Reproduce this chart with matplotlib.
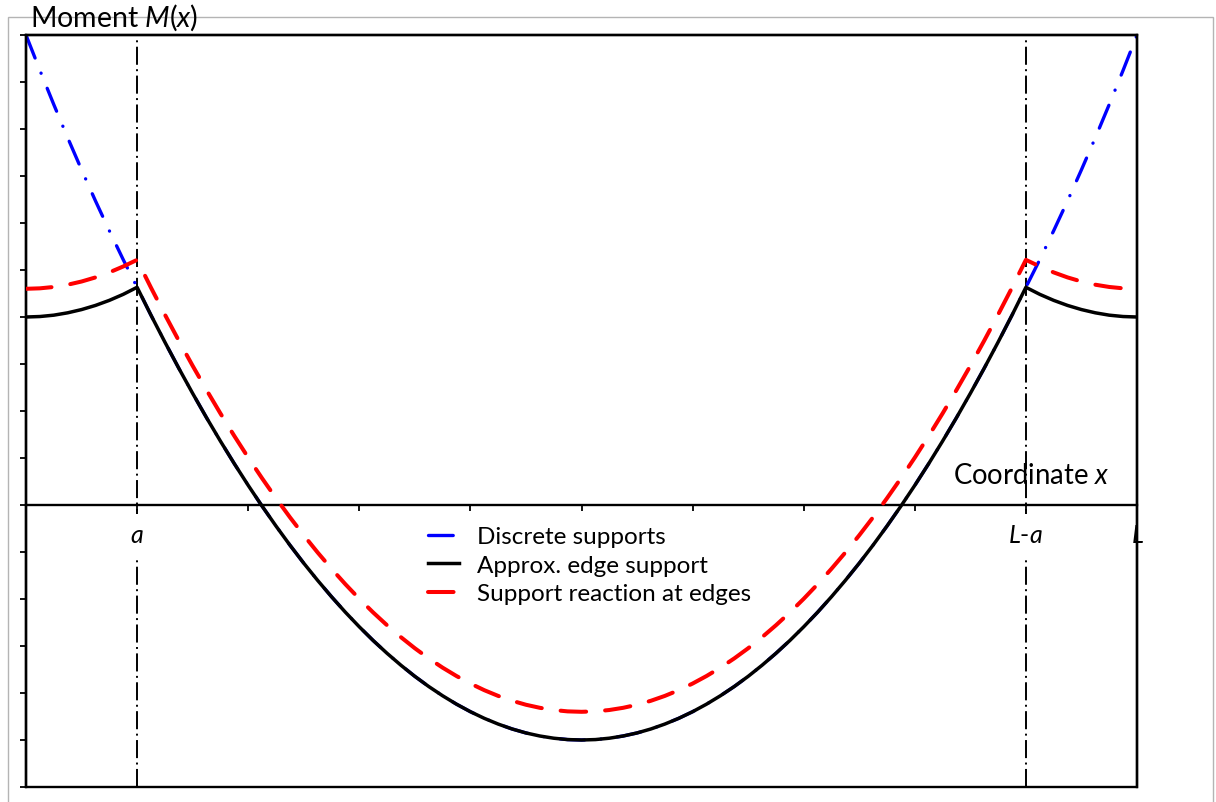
import matplotlib
matplotlib.use("Agg")
import matplotlib.pyplot as plt
from matplotlib.patches import Rectangle

plt.rcParams['font.family'] = ['Lato', 'DejaVu Sans']
plt.rcParams['mathtext.fontset'] = 'custom'
plt.rcParams['mathtext.rm'] = 'Lato'
plt.rcParams['mathtext.it'] = 'Lato:italic'
plt.rcParams['lines.scale_dashes'] = False

# Beam coordinate (span L = 10, support offset a = 1), sampled every 0.125
x_pos = [0.0, 0.125, 0.25, 0.375, 0.5, 0.625, 0.75, 0.875,
         1.0, 1.125, 1.25, 1.375, 1.5, 1.625, 1.75, 1.875,
         2.0, 2.125, 2.25, 2.375, 2.5, 2.625, 2.75, 2.875,
         3.0, 3.125, 3.25, 3.375, 3.5, 3.625, 3.75, 3.875,
         4.0, 4.125, 4.25, 4.375, 4.5, 4.625, 4.75, 4.875,
         5.0, 5.125, 5.25, 5.375, 5.5, 5.625, 5.75, 5.875,
         6.0, 6.125, 6.25, 6.375, 6.5, 6.625, 6.75, 6.875,
         7.0, 7.125, 7.25, 7.375, 7.5, 7.625, 7.75, 7.875,
         8.0, 8.125, 8.25, 8.375, 8.5, 8.625, 8.75, 8.875,
         9.0, 9.125, 9.25, 9.375, 9.5, 9.625, 9.75, 9.875, 10.0]

# Bending moment for discrete supports
m_discrete = [10.000, 9.249, 8.521, 7.815, 7.133, 6.472, 5.836, 5.221,
              4.632, 4.039, 3.466, 2.911, 2.375, 1.857, 1.359, 0.879,
              0.418, -0.024, -0.447, -0.852, -1.238, -1.604, -1.952, -2.282,
              -2.592, -2.884, -3.156, -3.410, -3.646, -3.862, -4.059, -4.238,
              -4.398, -4.539, -4.661, -4.765, -4.850, -4.915, -4.962, -4.991,
              -5.000, -4.991, -4.962, -4.915, -4.850, -4.765, -4.661, -4.539,
              -4.398, -4.238, -4.059, -3.862, -3.646, -3.410, -3.156, -2.884,
              -2.592, -2.282, -1.952, -1.604, -1.238, -0.852, -0.447, -0.024,
              0.418, 0.879, 1.359, 1.857, 2.375, 2.911, 3.466, 4.039,
              4.632, 5.221, 5.836, 6.472, 7.133, 7.815, 8.521, 9.249, 10.000]

# Bending moment for the approximated edge support
m_edge = [4.000, 4.010, 4.039, 4.089, 4.158, 4.246, 4.354, 4.482,
          4.632, 4.039, 3.466, 2.911, 2.375, 1.857, 1.359, 0.879,
          0.418, -0.024, -0.447, -0.852, -1.238, -1.604, -1.952, -2.282,
          -2.592, -2.884, -3.156, -3.410, -3.646, -3.862, -4.059, -4.238,
          -4.398, -4.539, -4.661, -4.765, -4.850, -4.915, -4.962, -4.991,
          -5.000, -4.991, -4.962, -4.915, -4.850, -4.765, -4.661, -4.539,
          -4.398, -4.238, -4.059, -3.862, -3.646, -3.410, -3.156, -2.884,
          -2.592, -2.282, -1.952, -1.604, -1.238, -0.852, -0.447, -0.024,
          0.418, 0.879, 1.359, 1.857, 2.375, 2.911, 3.466, 4.039,
          4.632, 4.482, 4.354, 4.246, 4.158, 4.089, 4.039, 4.010, 4.000]

# Bending moment with support reaction distributed at the edges
m_reaction = [4.600, 4.610, 4.639, 4.687, 4.755, 4.842, 4.949, 5.075,
              5.216, 4.624, 4.052, 3.498, 2.962, 2.446, 1.948, 1.469,
              1.009, 0.568, 0.145, -0.259, -0.644, -1.010, -1.357, -1.686,
              -1.996, -2.287, -2.559, -2.813, -3.048, -3.264, -3.461, -3.639,
              -3.799, -3.940, -4.062, -4.165, -4.250, -4.315, -4.362, -4.391,
              -4.400, -4.391, -4.362, -4.315, -4.250, -4.165, -4.062, -3.940,
              -3.799, -3.639, -3.461, -3.264, -3.048, -2.813, -2.559, -2.287,
              -1.996, -1.686, -1.357, -1.010, -0.644, -0.259, 0.145, 0.568,
              1.009, 1.469, 1.948, 2.446, 2.962, 3.498, 4.052, 4.624,
              5.216, 5.075, 4.949, 4.842, 4.755, 4.687, 4.639, 4.610, 4.600]

support_pos = [1.0, 9.0]
x_ticks = [0, 1, 2, 3, 4, 5, 6, 7, 8, 9, 10]
x_tick_labels = ['', '$a$', '', '', '', '', '', '', '', '$L$-$a$', '$L$']
y_ticks = list(range(-6, 11))

W, H = 1216, 803
fig = plt.figure(figsize=(W / 100, H / 100), dpi=100)

# light grey outer frame
fig.add_artist(Rectangle((8 / W, -0.05), (1213 - 8) / W, 1.05 - 18 / H,
                         transform=fig.transFigure, fill=False,
                         edgecolor='#b4b4b4', lw=1.0, zorder=0))

ax = fig.add_axes([26 / W, 1 - 788 / H, (1137 - 26) / W, (788 - 36) / H])
ax.set_xlim(0, 10)
ax.set_ylim(-6, 10)

for xs in support_pos:
    ax.axvline(xs, color='black', lw=1.4, dashes=(13, 3.2, 1.4, 3.2), zorder=1)

ax.plot(x_pos, m_discrete, color='#0000ff', lw=2.4,
        dashes=(17.8, 11.7, 0.1, 11.7), dash_capstyle='round',
        label='Discrete supports', zorder=2)
ax.plot(x_pos, m_edge, color='black', lw=2.5,
        label='Approx. edge support', zorder=3)
ax.plot(x_pos, m_reaction, color='#ff0000', lw=2.9,
        dashes=(18.4, 13.7), dash_capstyle='round',
        label='Support reaction at edges', zorder=4)

# axis line at M = 0 carrying the x ticks; plot box drawn separately
ax.spines['bottom'].set_position(('data', 0))
for s in ['bottom', 'left', 'top', 'right']:
    ax.spines[s].set_linewidth(1.7)
ax.add_patch(Rectangle((0, 0), 1, 1, transform=ax.transAxes, fill=False,
                       edgecolor='black', lw=1.7, clip_on=False, zorder=2.4))

ax.set_xticks(x_ticks)
ax.set_xticklabels(x_tick_labels)
ax.set_yticks(y_ticks)
ax.set_yticklabels([])
ax.tick_params(axis='x', direction='out', length=4.3, width=1.3, pad=9,
               labelsize=18)
ax.tick_params(axis='y', direction='out', length=4.3, width=1.3)
for lbl in ax.get_xticklabels():
    lbl.set_bbox(dict(facecolor='white', edgecolor='none', pad=7))

fig.text(30 / W, 1 - 18 / H, 'Moment $M$($x$)', fontsize=20.5,
         ha='left', va='center')
ax.text(9.757, 0.64, 'Coordinate $x$', fontsize=19.8, ha='right', va='center')

ax.legend(loc='upper left', bbox_to_anchor=(428 / W, 1 - 527 / H),
          bbox_transform=fig.transFigure, frameon=False, fontsize=17.5,
          handlelength=1.28, handletextpad=0.74, labelspacing=0.31,
          borderpad=0, borderaxespad=0)

fig.savefig('out.png', dpi=100)
